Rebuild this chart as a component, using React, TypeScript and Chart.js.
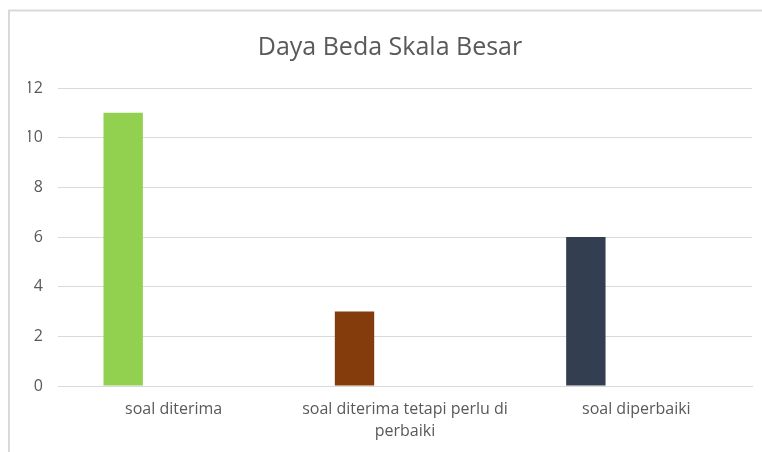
import React, { useEffect, useRef } from "react";
import { Chart, registerables } from "chart.js";

Chart.register(...registerables);

const TITLE = "Daya Beda Skala Besar";
const categories: (string | string[])[] = [
  "soal diterima",
  ["soal diterima tetapi perlu di", "perbaiki"],
  "soal diperbaiki",
];
const values: number[] = [11, 3, 6];
const emptySeries: (number | null)[] = [null, null, null];
const barColors: string[] = ["#92D050", "#843C0C", "#333F50"];
const yTicks = { min: 0, max: 12, step: 2 };

const FONT = "'Open Sans', 'Noto Sans', sans-serif";

const framePlugin = {
  id: "frame",
  beforeDraw(chart: any) {
    const ctx = chart.ctx;
    ctx.save();
    ctx.fillStyle = "#ffffff";
    ctx.fillRect(0, 0, chart.width, chart.height);
    ctx.strokeStyle = "#D9D9D9";
    ctx.lineWidth = 2;
    ctx.beginPath();
    ctx.moveTo(9, chart.height);
    ctx.lineTo(9, 10.5);
    ctx.lineTo(chart.width, 10.5);
    ctx.stroke();
    ctx.restore();
  },
};

export default function App() {
  const ref = useRef<HTMLCanvasElement | null>(null);
  useEffect(() => {
    document.body.style.margin = "0";
    document.body.style.overflow = "hidden";
    const chart = new Chart(ref.current as HTMLCanvasElement, {
      type: "bar",
      data: {
        labels: categories,
        datasets: [
          {
            label: "Daya Beda",
            data: values,
            backgroundColor: barColors,
            borderWidth: 0,
          },
          {
            label: "",
            data: emptySeries,
            backgroundColor: "transparent",
          },
        ],
      },
      options: {
        animation: false,
        responsive: false,
        maintainAspectRatio: false,
        datasets: {
          bar: { categoryPercentage: 0.873, barPercentage: 0.39 },
        },
        layout: { padding: { left: 28, right: 10, top: 33, bottom: 0 } },
        plugins: {
          legend: { display: false },
          tooltip: { enabled: false },
          title: {
            display: true,
            text: TITLE,
            color: "#595959",
            font: { family: FONT, size: 25, weight: "normal" },
            padding: { top: 0, bottom: 25 },
          },
        },
        scales: {
          x: {
            grid: { display: false, drawTicks: false },
            border: { display: true, color: "#D9D9D9", width: 1 },
            ticks: {
              color: "#595959",
              font: { family: FONT, size: 16, lineHeight: 1.375 },
              padding: 12,
              maxRotation: 0,
              autoSkip: false,
            },
            afterFit(scale: any) {
              scale.height = 66;
            },
          },
          y: {
            min: yTicks.min,
            max: yTicks.max,
            grid: { color: "#D9D9D9", drawTicks: false },
            border: { display: false },
            ticks: {
              stepSize: yTicks.step,
              color: "#595959",
              font: { family: FONT, size: 16 },
              padding: 15,
            },
            afterFit(scale: any) {
              scale.width = 30;
            },
          },
        },
      },
      plugins: [framePlugin],
    });
    return () => chart.destroy();
  }, []);
  return (
    <div style={{ position: "fixed", left: 0, top: 0, width: 762, height: 452 }}>
      <canvas ref={ref} width={762} height={452} style={{ width: 762, height: 452 }} />
    </div>
  );
}
